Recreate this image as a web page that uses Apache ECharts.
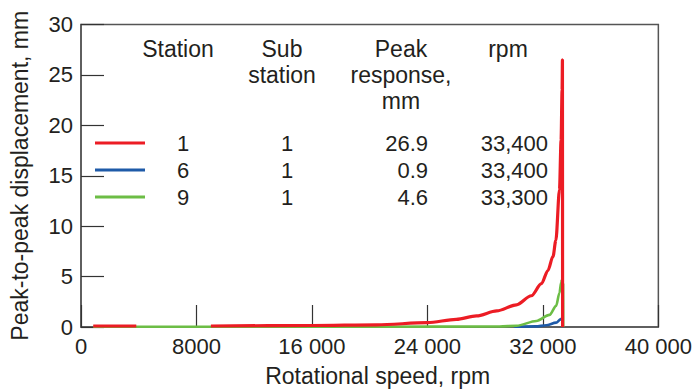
<!DOCTYPE html>
<html>
<head>
<meta charset="utf-8">
<script src="https://cdn.jsdelivr.net/npm/echarts@6/dist/echarts.min.js"></script>
<style>
  html, body { margin: 0; padding: 0; background: #fff; }
  #chart { width: 695px; height: 392px; }
</style>
</head>
<body>
<div id="chart"></div>
<script>
// values: [rpm, peak-to-peak mm]
var station1 = [
  [850, 0.1], [3830, 0.1], [3900, null], [8950, null],
  [9000, 0.1], [16000, 0.15], [20500, 0.22], [24000, 0.43], [26000, 0.76],
  [27400, 1.1], [28800, 1.6], [30170, 2.2], [31200, 3.1], [31900, 4.3],
  [32350, 5.6], [32700, 7.0], [32900, 8.6], [33150, 13.6], [33260, 18.5],
  [33330, 23.5], [33355, 26.5], [33365, 0]
];
var station6 = [
  [30000, 0.02], [31500, 0.06], [32230, 0.17], [32920, 0.43],
  [33220, 0.76], [33355, 0.88], [33370, 0]
];
var station9 = [
  [850, 0.03], [10000, 0.03], [20000, 0.03], [29000, 0.05], [30170, 0.12],
  [31550, 0.6], [32460, 1.2], [32920, 2.1], [33150, 3.4], [33265, 4.4],
  [33295, 4.6], [33400, 4.3], [33410, 0]
];

var stationNames = ['1', '6', '9'];
var subStations = ['1', '1', '1'];
var peakResponse = ['26.9', '0.9', '4.6'];
var peakRpm = ['33,400', '33,400', '33,300'];
var seriesColors = ['#ec1c24', '#1e5aa8', '#6cbd45'];
var seriesData = [station1, station6, station9];
var xTicks = [0, 8000, 16000, 24000, 32000, 40000];

var font = '"Liberation Sans", Arial, Helvetica, sans-serif';
var ink = '#231f20';
var frame = '#555555';

var chart = echarts.init(document.getElementById('chart'), null, { renderer: 'svg' });

var legendNames = stationNames.map(function (s) { return 'Station ' + s; });

var series = [1, 2, 0].map(function (i) {
  return {
    name: legendNames[i],
    type: 'line',
    data: seriesData[i],
    showSymbol: false,
    connectNulls: false,
    smooth: 0.3,
    smoothMonotone: 'x',
    animation: false,
    color: seriesColors[i],
    lineStyle: { width: i === 0 ? 3.2 : 2.6, color: seriesColors[i] }
  };
});

function headerText(txt, x, y) {
  return {
    type: 'text', x: x, y: y, silent: true,
    style: {
      text: txt, fill: ink, font: '23px ' + font,
      textAlign: 'center', textVerticalAlign: 'middle'
    }
  };
}

var option = {
  backgroundColor: '#fff',
  animation: false,
  grid: {
    left: 81, right: 32, top: 24.5, bottom: 64,
    show: true, borderColor: frame, borderWidth: 1.5
  },
  legend: {
    data: legendNames,
    orient: 'vertical',
    left: 90, top: 127,
    icon: 'rect', itemWidth: 50, itemHeight: 3, itemGap: 5,
    selectedMode: false,
    formatter: function (name) {
      var i = legendNames.indexOf(name);
      return '{a|' + stationNames[i] + '}{b|' + subStations[i] + '}{c|' +
        peakResponse[i] + '}{d|' + peakRpm[i] + '}';
    },
    textStyle: {
      color: ink, fontFamily: font, fontSize: 22,
      rich: {
        a: { width: 66, align: 'center', fontSize: 22, fontFamily: font, color: ink },
        b: { width: 142, align: 'center', fontSize: 22, fontFamily: font, color: ink },
        c: { width: 70, align: 'right', fontSize: 22, fontFamily: font, color: ink },
        d: { width: 120, align: 'right', fontSize: 22, fontFamily: font, color: ink }
      }
    }
  },
  graphic: [
    headerText('Station', 178, 48.5),
    headerText('Sub', 282, 48.5),
    headerText('station', 282, 74.5),
    headerText('Peak', 401, 48.5),
    headerText('response,', 401, 74.5),
    headerText('mm', 401, 100.5),
    headerText('rpm', 508, 48.5)
  ],
  xAxis: {
    type: 'value',
    min: xTicks[0], max: xTicks[xTicks.length - 1], interval: 8000,
    name: 'Rotational speed, rpm',
    nameLocation: 'middle', nameGap: 37,
    nameTextStyle: { color: ink, fontSize: 23, fontFamily: font, padding: [0, 0, 0, 16] },
    axisLine: { lineStyle: { color: frame, width: 1.5 } },
    axisTick: { inside: true, length: 22, lineStyle: { color: '#333', width: 1.2 } },
    axisLabel: {
      color: ink, fontSize: 22, fontFamily: font, margin: 8,
      formatter: function (v) {
        return v >= 10000 ? String(v).replace(/(\d{3})$/, ' $1') : String(v);
      }
    },
    splitLine: { show: false }
  },
  yAxis: {
    type: 'value',
    min: 0, max: 30, interval: 5,
    name: 'Peak-to-peak displacement, mm',
    nameLocation: 'middle', nameGap: 50,
    nameTextStyle: { color: ink, fontSize: 23, fontFamily: font },
    axisLine: { show: true, lineStyle: { color: frame, width: 1.5 } },
    axisTick: { show: true, inside: true, length: 23, lineStyle: { color: '#333', width: 1.2 } },
    axisLabel: { color: ink, fontSize: 22, fontFamily: font, margin: 8 },
    splitLine: { show: false }
  },
  series: series
};

chart.setOption(option);
</script>
</body>
</html>
